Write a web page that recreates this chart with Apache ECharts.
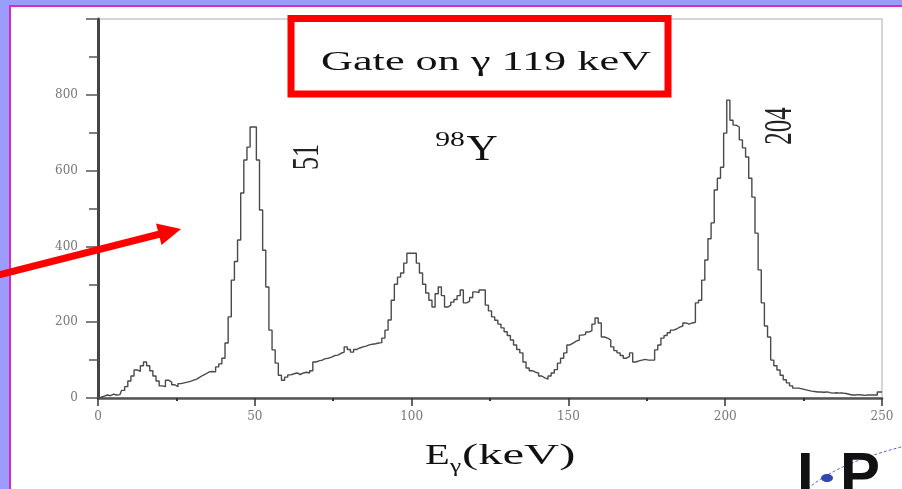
<!DOCTYPE html>
<html>
<head>
<meta charset="utf-8">
<script src="https://cdn.jsdelivr.net/npm/echarts@6/dist/echarts.min.js"></script>
<style>
html,body{margin:0;padding:0;width:902px;height:489px;overflow:hidden;background:#9c9cff;}
#panel{position:absolute;left:9px;top:5px;width:900px;height:490px;background:#fff;border-left:2px solid #d42cc4;border-top:2px solid #d42cc4;}
#chart{position:absolute;left:0;top:0;width:902px;height:489px;}
</style>
</head>
<body>
<div id="panel"></div>
<div id="chart"></div>
<script>
// Gamma spectrum, gate on 119 keV (98Y); 1 keV bins from 0 to 250 keV
const energies = [];
for (let e = 0; e <= 250; e++) energies.push(e);
const counts = [
  0, 2, 5, 8, 6, 10, 8, 9, 20, 30,
  45, 58, 74, 70, 85, 95, 85, 72, 58, 45,
  32, 30, 47, 42, 35, 30, 38, 40, 42, 44,
  47, 50, 55, 60, 64, 69, 70, 69, 82, 90,
  105, 145, 214, 311, 360, 417, 541, 628, 662, 715,
  715, 628, 496, 390, 293, 179, 127, 92, 60, 47,
  55, 61, 64, 66, 62, 66, 68, 66, 72, 95,
  98, 100, 104, 105, 108, 112, 113, 118, 121, 135,
  128, 121, 128, 132, 135, 137, 140, 142, 143, 145,
  146, 158, 179, 206, 258, 300, 319, 330, 356, 382,
  382, 382, 356, 330, 300, 277, 258, 240, 275, 293,
  270, 240, 245, 253, 260, 270, 285, 251, 255, 265,
  280, 278, 285, 285, 245, 230, 214, 205, 195, 185,
  175, 165, 153, 140, 128, 119, 95, 79, 72, 68,
  66, 58, 53, 50, 58, 66, 75, 92, 105, 119,
  140, 145, 150, 153, 166, 168, 174, 178, 195, 211,
  198, 161, 158, 153, 135, 125, 119, 112, 105, 110,
  119, 95, 98, 100, 102, 100, 100, 100, 127, 140,
  158, 165, 172, 179, 182, 187, 190, 198, 195, 198,
  200, 251, 258, 311, 364, 420, 462, 549, 580, 609,
  699, 786, 733, 720, 715, 681, 660, 636, 580, 530,
  435, 338, 251, 190, 161, 100, 85, 74, 60, 48,
  40, 32, 26, 26, 24, 22, 20, 18, 17, 16,
  16, 15, 16, 14, 13, 14, 13, 13, 12, 10,
  8, 8, 9, 8, 7, 8, 8, 8, 8, 16,
  16
];
const xTicks = [0, 50, 100, 150, 200, 250];
const yTicks = [0, 200, 400, 600, 800];
const gateLabel = 'Gate on \u03b3 119 keV';
const peakLabels = ['51', '204'];

const chart = echarts.init(document.getElementById('chart'), null, {renderer: 'canvas'});
const serif = '"Liberation Serif", "Times New Roman", serif';

const option = {
  backgroundColor: 'transparent',
  animation: false,
  grid: {left: 98, right: 20, top: 19, bottom: 91, show: true, borderColor: '#c8c8c8', borderWidth: 1.5, backgroundColor: 'transparent'},
  xAxis: {
    type: 'value', min: xTicks[0], max: xTicks[xTicks.length - 1], interval: 50,
    axisLine: {show: true, lineStyle: {color: '#555', width: 2.5}},
    axisTick: {show: true, length: 8, lineStyle: {color: '#333', width: 1.5}},
    minorTick: {show: true, splitNumber: 2, length: 3, lineStyle: {color: '#333', width: 2}},
    splitLine: {show: false},
    axisLabel: {margin: 13, color: '#777', fontFamily: '"DejaVu Serif", serif', fontSize: 12,
      formatter: v => xTicks.includes(v) ? String(v) : ''}
  },
  yAxis: {
    type: 'value', min: 0, max: 1000, interval: 200,
    axisLine: {show: true, lineStyle: {color: '#444', width: 3}},
    axisTick: {show: true, length: 12, lineStyle: {color: '#555', width: 1.5}},
    minorTick: {show: true, splitNumber: 2, length: 9, lineStyle: {color: '#555', width: 1.5}},
    splitLine: {show: false},
    axisLabel: {margin: 20, color: '#777', fontFamily: '"DejaVu Serif", serif', fontSize: 12, showMaxLabel: false,
      formatter: v => yTicks.includes(v) ? String(v) : ''}
  },
  series: [{
    type: 'line', step: 'middle', symbol: 'none', clip: true,
    data: energies.map((e, i) => [e, counts[i]]),
    lineStyle: {color: '#4a4a4a', width: 1.4}
  }],
  graphic: [
    // red box with gate label
    {type: 'rect', z: 50, shape: {x: 291, y: 18.5, width: 377, height: 75.5},
      style: {fill: '#fff', stroke: '#ff0000', lineWidth: 7}},
    {type: 'text', z: 51, x: 486, y: 63, scaleX: 1.58,
      style: {text: gateLabel, fontFamily: serif, fontSize: 28, fill: '#111', textAlign: 'center', textVerticalAlign: 'middle'}},
    // peak labels (rotated)
    {type: 'text', z: 51, x: 308, y: 157, rotation: Math.PI / 2, scaleY: 1.45,
      style: {text: peakLabels[0], fontFamily: serif, fontSize: 26, fill: '#222', textAlign: 'center', textVerticalAlign: 'middle'}},
    {type: 'text', z: 51, x: 780, y: 126, rotation: Math.PI / 2, scaleY: 1.6,
      style: {text: peakLabels[1], fontFamily: serif, fontSize: 25, fill: '#222', textAlign: 'center', textVerticalAlign: 'middle'}},
    // 98Y
    {type: 'text', z: 51, x: 450, y: 140, scaleX: 1.35,
      style: {text: '98', fontFamily: serif, fontSize: 22, fill: '#111', textAlign: 'center', textVerticalAlign: 'middle'}},
    {type: 'text', z: 51, x: 482, y: 151, scaleX: 1.2,
      style: {text: 'Y', fontFamily: serif, fontSize: 36, fill: '#111', textAlign: 'center', textVerticalAlign: 'middle'}},
    // x axis title E_gamma (keV)
    {type: 'text', z: 51, x: 425, y: 456, scaleX: 1.35,
      style: {text: 'E', fontFamily: serif, fontSize: 30, fill: '#111', textAlign: 'left', textVerticalAlign: 'middle'}},
    {type: 'text', z: 51, x: 450, y: 467, scaleX: 1.4,
      style: {text: '\u03b3', fontFamily: serif, fontSize: 18, fill: '#111', textAlign: 'left', textVerticalAlign: 'middle'}},
    {type: 'text', z: 51, x: 462, y: 456, scaleX: 1.62,
      style: {text: '(keV)', fontFamily: serif, fontSize: 30, fill: '#111', textAlign: 'left', textVerticalAlign: 'middle'}},
    // red arrow
    {type: 'line', z: 100, shape: {x1: -5, y1: 276, x2: 162, y2: 233.5},
      style: {stroke: '#ff0000', lineWidth: 7}},
    {type: 'polygon', z: 100, shape: {points: [[181, 229], [156, 223.5], [161.5, 245]]},
      style: {fill: '#ff0000'}},
    // logo fragment
    {type: 'bezierCurve', z: 40, shape: {x1: 804, y1: 492, x2: 905, y2: 446, cpx1: 830, cpy1: 468, cpx2: 870, cpy2: 455},
      style: {stroke: '#5566cc', lineWidth: 1, lineDash: [3, 2], fill: null}},
    {type: 'text', z: 41, x: 797, y: 447,
      style: {text: 'I', fontFamily: '"Liberation Sans", Arial, sans-serif', fontWeight: 'bold', fontSize: 60, fill: '#111', textAlign: 'left', textVerticalAlign: 'top'}},
    {type: 'ellipse', z: 42, shape: {cx: 827, cy: 478, rx: 6, ry: 4},
      style: {fill: '#3346b0'}},
    {type: 'text', z: 41, x: 840, y: 447,
      style: {text: 'P', fontFamily: '"Liberation Sans", Arial, sans-serif', fontWeight: 'bold', fontSize: 60, fill: '#111', textAlign: 'left', textVerticalAlign: 'top'}}
  ]
};
chart.setOption(option);
</script>
</body>
</html>
